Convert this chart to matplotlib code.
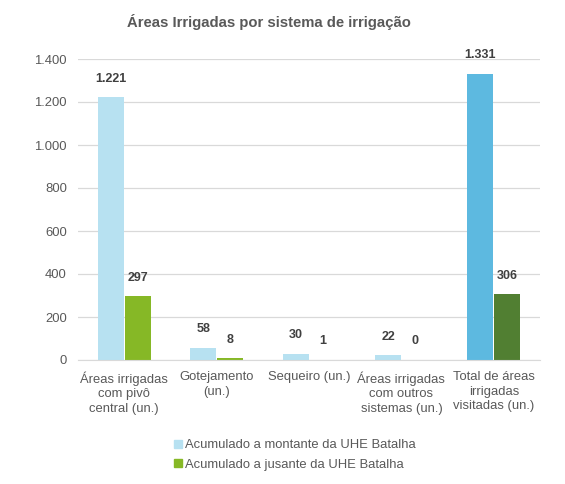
import matplotlib
matplotlib.use("Agg")
import matplotlib.pyplot as plt
import numpy as np

categories = ["Áreas irrigadas\ncom pivô\ncentral (un.)", "Gotejamento\n(un.)", "Sequeiro (un.)",
              "Áreas irrigadas\ncom outros\nsistemas (un.)", "Total de áreas\nirrigadas\nvisitadas (un.)"]
montante = [1221, 58, 30, 22, 1331]
jusante = [297, 8, 1, 0, 306]
labels_montante = ["1.221", "58", "30", "22", "1.331"]
labels_jusante = ["297", "8", "1", "0", "306"]
yticks = [0, 200, 400, 600, 800, 1000, 1200, 1400]
ytick_labels = ["0", "200", "400", "600", "800", "1.000", "1.200", "1.400"]
series_names = ["Acumulado a montante da UHE Batalha", "Acumulado a jusante da UHE Batalha"]

plt.rcParams['font.family'] = ['Liberation Sans', 'DejaVu Sans']
txt = '#595959'

fig = plt.figure(figsize=(5.65, 4.84), dpi=100)
ax = fig.add_axes([78/565, 1 - 360/484, (540-78)/565, (360-59)/484])

x = np.arange(len(categories))
w = 0.28
c_m = ['#B7E1F1'] * 4 + ['#5DB9E0']
c_j = ['#86B826'] * 4 + ['#517F32']
b1 = ax.bar(x - w/2 - 0.005, montante, w, color=c_m, label=series_names[0])
b2 = ax.bar(x + w/2 + 0.005, jusante, w, color=c_j, label=series_names[1])

for bars, labs in ((b1, labels_montante), (b2, labels_jusante)):
    for r, l in zip(bars, labs):
        ax.annotate(l, (r.get_x() + r.get_width()/2, r.get_height()), xytext=(0, 9),
                    textcoords='offset points', ha='center', va='bottom',
                    fontsize=9, fontweight='bold', color='#404040')

ax.set_xlim(-0.5, len(categories) - 0.5)
ax.set_ylim(0, 1400)
ax.set_yticks(yticks)
ax.set_yticklabels(ytick_labels)
ax.set_xticks(x)
ax.set_xticklabels(categories, linespacing=1.28)
ax.tick_params(axis='both', length=0, labelsize=9.4, labelcolor=txt)
ax.tick_params(axis='x', pad=8)
ax.tick_params(axis='y', pad=8)
ax.grid(axis='y', color='#D9D9D9', linewidth=0.9)
ax.set_axisbelow(True)
for s in ['top', 'right', 'left']:
    ax.spines[s].set_visible(False)
ax.spines['bottom'].set_color('#D9D9D9')

fig.text(0.476, 1 - 22/484, "Áreas Irrigadas por sistema de irrigação", ha='center', va='center',
         fontsize=10.7, fontweight='bold', color=txt)

leg = fig.legend(handles=[b1[0], b2[0]], labels=series_names, loc='center',
                 bbox_to_anchor=(0.522, 1 - 455/484), ncol=1, frameon=False, fontsize=9.4,
                 handlelength=0.6, handleheight=0.6, handletextpad=0.25, labelspacing=0.55)
for t in leg.get_texts():
    t.set_color(txt)
leg.legend_handles[0].set_color('#B7E1F1')
leg.legend_handles[1].set_color('#86B826')

fig.savefig("out.png", dpi=100)
